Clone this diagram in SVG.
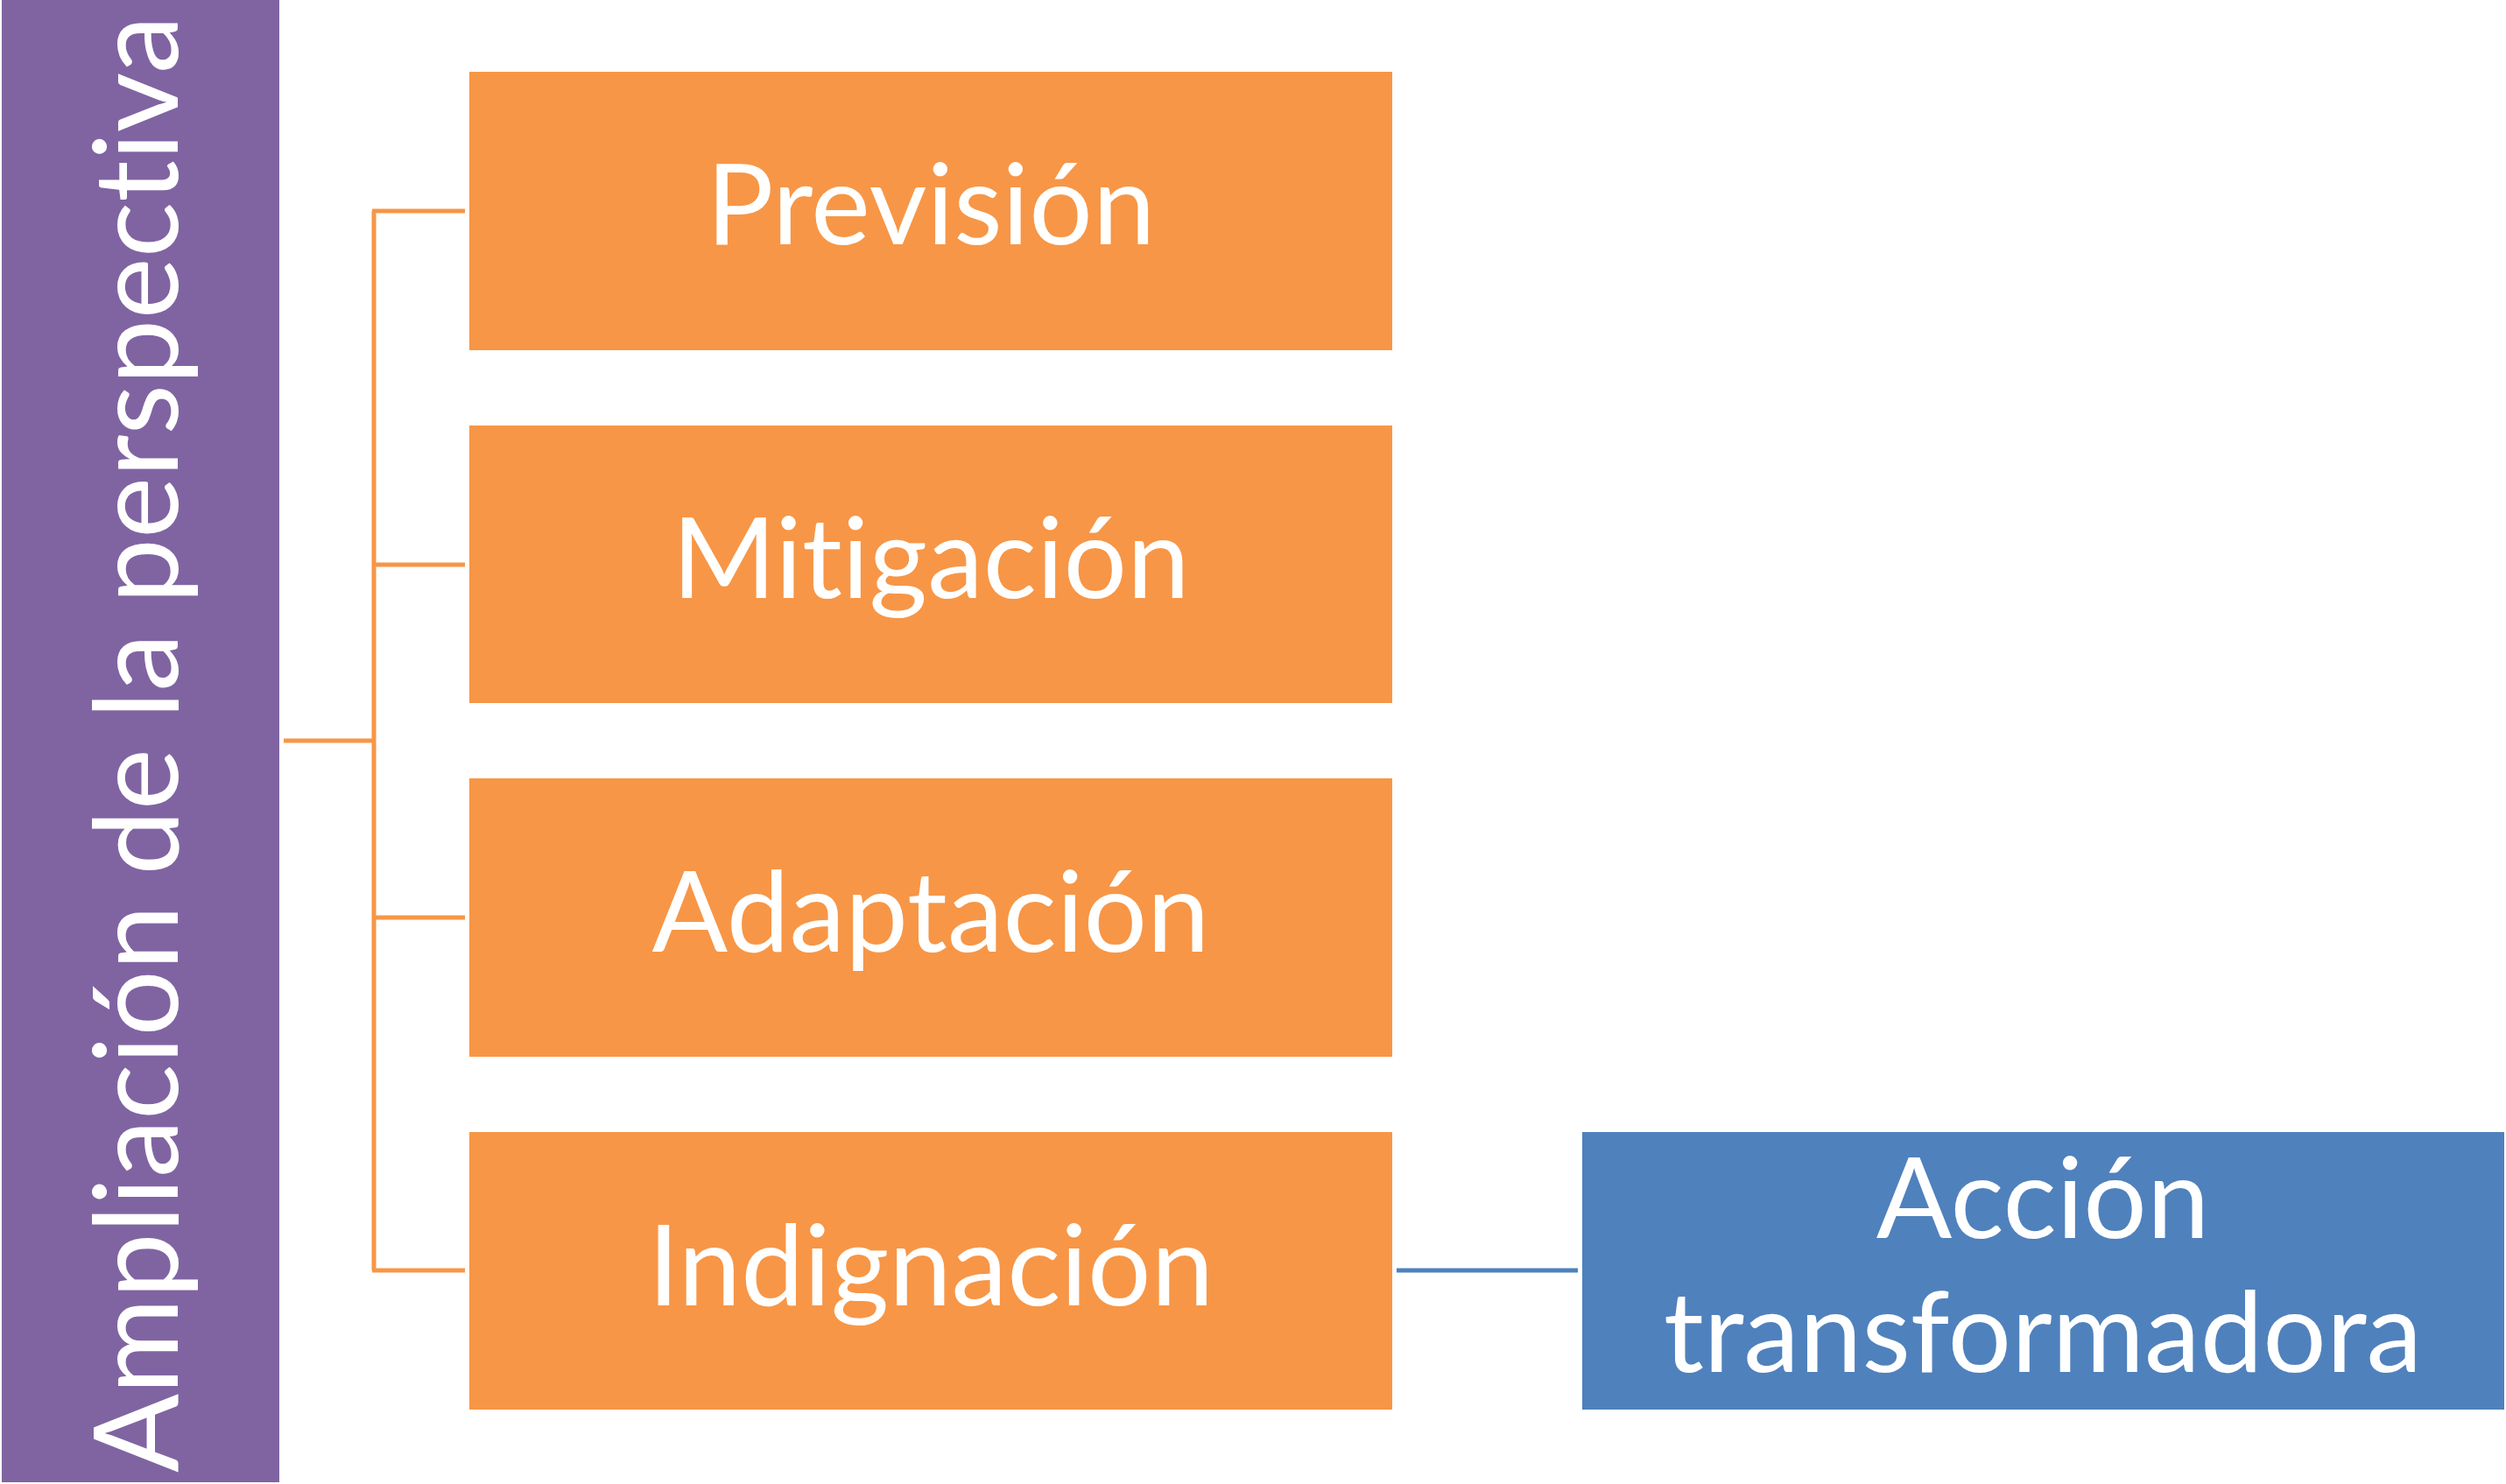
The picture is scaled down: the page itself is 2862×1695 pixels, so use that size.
<svg xmlns="http://www.w3.org/2000/svg" width="2862" height="1695" viewBox="0 0 2862 1695">
<style>
.lbl{font-family:Lato,"Open Sans","Liberation Sans",sans-serif;fill:#FFFFFF;text-anchor:middle;font-variant-ligatures:none;font-feature-settings:"liga" 0,"clig" 0}
.big{font-size:128px}
.side{font-size:133px}
.orange{fill:#F79646}
.conn-o{stroke:#F79646;stroke-width:5;fill:none}
.conn-b{stroke:#4F81BD;stroke-width:5;fill:none}
</style>
<rect x="0" y="0" width="2862" height="1695" fill="#FFFFFF"/>
<g id="connectors">
<line class="conn-o" x1="324" y1="846" x2="427" y2="846"/>
<line class="conn-o" x1="427" y1="241" x2="427" y2="1451"/>
<line class="conn-o" x1="425" y1="241" x2="531" y2="241"/>
<line class="conn-o" x1="427" y1="645" x2="531" y2="645"/>
<line class="conn-o" x1="427" y1="1048" x2="531" y2="1048"/>
<line class="conn-o" x1="425" y1="1451" x2="531" y2="1451"/>
<line class="conn-b" x1="1595" y1="1451" x2="1802" y2="1451"/>
</g>
<g id="node-root">
<rect x="2" y="0" width="317" height="1693" fill="#8064A2"/>
<text class="lbl side" transform="translate(203,850) rotate(-90)" x="0" y="0">Ampliación de la perspectiva</text>
</g>
<g id="node-prevision">
<rect class="orange" x="536" y="82" width="1054" height="318"/>
<text class="lbl big" x="1063" y="279">Previsión</text>
</g>
<g id="node-mitigacion">
<rect class="orange" x="536" y="486" width="1054" height="317"/>
<text class="lbl big" x="1063" y="683">Mitigación</text>
</g>
<g id="node-adaptacion">
<rect class="orange" x="536" y="889" width="1054" height="318"/>
<text class="lbl big" x="1063" y="1087">Adaptación</text>
</g>
<g id="node-indignacion">
<rect class="orange" x="536" y="1293" width="1054" height="317"/>
<text class="lbl big" x="1063" y="1491">Indignación</text>
</g>
<g id="node-accion">
<rect x="1807" y="1293" width="1053" height="317" fill="#4F81BD"/>
<text class="lbl big" x="2333" y="1414">Acción</text>
<text class="lbl big" x="2333" y="1567">transformadora</text>
</g>
</svg>
